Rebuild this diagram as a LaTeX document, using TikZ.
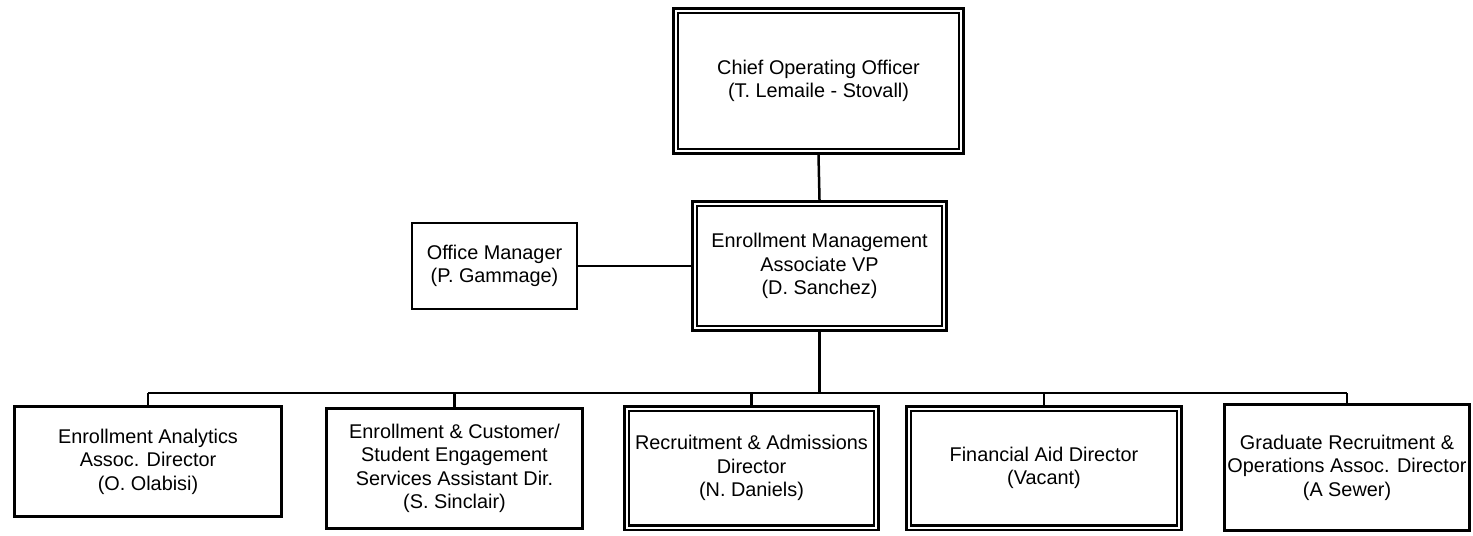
\documentclass[tikz,border=0pt]{standalone}
\usepackage{fontspec}
\setmainfont{Liberation Sans}
\usepackage{tikz}
\usetikzlibrary{positioning, calc}

\begin{document}
\begin{tikzpicture}[
    x=0.02cm, y=-0.02cm,
    font=\fontsize{11.3pt}{13.3pt}\selectfont,
    % Node styles
    posbox/.style={draw, align=center, inner sep=1pt, line width=0.055cm},
    headbox/.style={draw, double, double distance=0.04cm, align=center, inner sep=1pt, line width=0.05cm, outer sep=0.07cm},
    link/.style={line width=0.05cm, color=black}
]

\useasboundingbox (0,0) rectangle (1473,535);

% ========== TOP: COO and VP ==========
\node[headbox, minimum width=5.72cm, minimum height=2.82cm] (coo) at (818.5, 81) {Chief Operating Officer\\(T. Lemaile - Stovall)};
\node[headbox, minimum width=5.0cm, minimum height=2.5cm] (vp) at (819.5, 266) {Enrollment Management\\Associate VP\\(D. Sanchez)};

% Office manager (staff)
\node[posbox, minimum width=3.3cm, minimum height=1.72cm] (om) at (494.5, 266) {Office Manager\\(P. Gammage)};

% ========== BOTTOM ROW: Directors ==========
\node[posbox, minimum width=5.34cm, minimum height=2.2cm] (analytics) at (148, 461.5) {Enrollment Analytics\\Assoc. Director\\(O. Olabisi)};
\node[posbox, minimum width=5.12cm, minimum height=2.4cm] (engage) at (454.5, 468.5) {Enrollment \& Customer/\\Student Engagement\\Services Assistant Dir.\\(S. Sinclair)};
\node[headbox, minimum width=5.0cm, minimum height=2.38cm] (admit) at (751.5, 468) {Recruitment \& Admissions\\Director\\(N. Daniels)};
\node[headbox, minimum width=5.42cm, minimum height=2.38cm] (finaid) at (1044, 468) {Financial Aid Director\\(Vacant)};
\node[posbox, minimum width=4.9cm, minimum height=2.52cm] (grad) at (1347, 467.5) {Graduate Recruitment \&\\Operations Assoc. Director\\(A Sewer)};

% ========== LINKS ==========
\coordinate (bus) at (0, 393);

\draw[link] (coo.south) -- (vp.north);
\draw[link] (om.east) -- (vp.west);

% VP down to the bus line
\draw[link] (vp.south) -- (vp.south |- bus);
\draw[link] (analytics.north |- bus) -- (grad.north |- bus);
\foreach \b in {analytics, engage, admit, finaid, grad}
    \draw[link] (\b.north) -- (\b.north |- bus);

\end{tikzpicture}
\end{document}
